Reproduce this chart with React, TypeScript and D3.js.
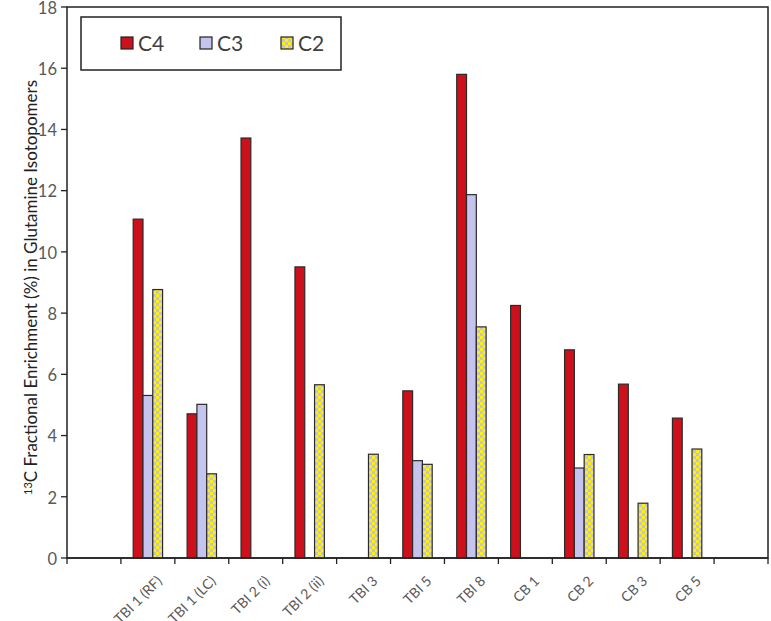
import React from "react";
import * as d3 from "d3";

const categories = ["", "TBI 1 (RF)", "TBI 1 (LC)", "TBI 2 (i)", "TBI 2 (ii)", "TBI 3", "TBI 5", "TBI 8", "CB 1", "CB 2", "CB 3", "CB 5", " "];
const seriesNames = ["C4", "C3", "C2"];
const c4 = [null, 11.07, 4.71, 13.72, 9.51, null, 5.46, 15.8, 8.25, 6.8, 5.68, 4.57, null];
const c3 = [null, 5.31, 5.02, null, null, null, 3.18, 11.87, null, 2.94, null, null, null];
const c2 = [null, 8.77, 2.75, null, 5.66, 3.39, 3.06, 7.55, null, 3.38, 1.79, 3.56, null];
const yTicks = [0, 2, 4, 6, 8, 10, 12, 14, 16, 18];

const W = 771, H = 621;
const left = 67, right = 768, top = 7, bottom = 558;
const font = "Lato, 'Open Sans', sans-serif";

export default function App() {
  const x = d3.scaleBand<string>().domain(categories).range([left, right]).paddingInner(0).paddingOuter(0);
  const y = d3.scaleLinear().domain([0, 18]).range([bottom, top]);
  const groupW = x.bandwidth() * 0.545;
  const xs = d3.scaleBand<string>().domain(seriesNames).range([0, groupW]);
  const data = [c4, c3, c2];
  const fills = ["#CC101C", "#C4C4EE", "url(#checker)"];
  const tickXs = categories.map((c) => x(c) as number).concat([right]);

  return (
    <svg width={W} height={H} style={{ position: "absolute", left: 0, top: 0, background: "#fff" }}>
      <defs>
        <pattern id="checker" width={6} height={6} patternUnits="userSpaceOnUse">
          <rect width={6} height={6} fill="#C4C2D8" />
          <rect width={3} height={3} fill="#FFF200" />
          <rect x={3} y={3} width={3} height={3} fill="#FFF200" />
        </pattern>
      </defs>
      <rect x={left} y={top} width={right - left} height={bottom - top} fill="#fff" stroke="#222" strokeWidth={1.5} />
      {yTicks.map((t) => (
        <g key={t}>
          <line x1={left - 6} x2={left} y1={y(t)} y2={y(t)} stroke="#222" strokeWidth={1.3} />
          <text x={left - 10} y={y(t) + 1} dy="0.35em" textAnchor="end" fontFamily={font} fontSize={16.5} fill="#595959">{t}</text>
        </g>
      ))}
      {tickXs.map((tx, i) => (
        <line key={i} x1={tx} x2={tx} y1={bottom} y2={bottom + 6} stroke="#222" strokeWidth={1.3} />
      ))}
      {categories.map((c) => {
        const cx = (x(c) as number) + x.bandwidth() / 2;
        return (
          <text key={c} transform={`translate(${cx + 8},${bottom + 17}) rotate(-45)`} textAnchor="end" dy="0.7em" fontFamily={font} fontSize={14} fill="#595959">{c.trim()}</text>
        );
      })}
      {data.map((s, si) =>
        s.map((v, ci) => {
          if (v == null) return null;
          const cat = categories[ci];
          const bx = (x(cat) as number) + (x.bandwidth() - groupW) / 2 + (xs(seriesNames[si]) as number);
          return (
            <rect key={si + "-" + ci} x={bx} y={y(v)} width={xs.bandwidth()} height={bottom - y(v)} fill={fills[si]} stroke="#2a2a2a" strokeWidth={1.2} />
          );
        })
      )}
      <line x1={left} x2={right} y1={bottom} y2={bottom} stroke="#222" strokeWidth={1.5} />
      <rect x={81} y={17} width={260} height={53} fill="#fff" stroke="#222" strokeWidth={1.5} />
      {seriesNames.map((n, i) => {
        const lx = [121, 200, 281][i];
        return (
          <g key={n}>
            <rect x={lx} y={37} width={12} height={12} fill={fills[i]} stroke="#222" strokeWidth={1.2} />
            <text x={lx + 17} y={43} dy="0.36em" fontFamily={font} fontSize={21} fill="#404040">{n}</text>
          </g>
        );
      })}
      <text transform={`translate(37,${(top + bottom) / 2 + 5}) rotate(-90)`} textAnchor="middle" fontFamily={font} fontSize={17} fill="#222">
        <tspan fontSize={11} dy="-5">13</tspan>
        <tspan dy="5">C Fractional Enrichment (%) in Glutamine Isotopomers</tspan>
      </text>
    </svg>
  );
}
